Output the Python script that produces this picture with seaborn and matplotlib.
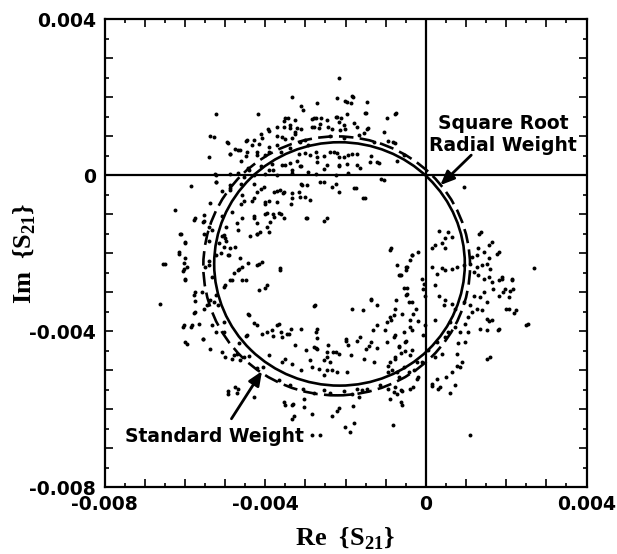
import numpy as np
import pandas as pd
import seaborn as sns
import matplotlib
matplotlib.use("Agg")
import matplotlib.pyplot as plt
from matplotlib.patches import Circle
from matplotlib.ticker import MultipleLocator, FuncFormatter

# ------------------------------------------------------------
# measured S21 points, read off the figure, in units of 1e-3
# (Re, Im) pairs, grouped by where they sit around the circle
# ------------------------------------------------------------

upper_arc = [
    (-2.17, 2.48), (-3.32, 2.00), (-2.20, 1.97), (-1.85, 2.03), (-1.97, 1.86), (-3.12, 1.77),
    (-3.07, 1.66), (-2.70, 1.84), (-1.46, 1.86), (-5.22, 1.57), (-4.18, 1.57), (-1.97, 1.57),
    (-1.51, 1.59), (-0.78, 1.57), (-3.51, 1.45), (-3.27, 1.41), (-2.78, 1.47), (-2.63, 1.32),
    (-2.24, 1.50), (-2.15, 1.36), (-3.71, 1.22), (-3.37, 1.27), (-3.12, 1.18), (-2.83, 1.22),
    (-2.44, 1.22), (-2.05, 1.27), (-1.71, 1.22), (-1.46, 1.18), (-5.37, 1.00), (-5.27, 0.97),
    (-4.93, 0.81), (-4.68, 0.63), (-4.49, 0.86), (-4.29, 0.90), (-4.10, 1.04), (-3.90, 1.13),
    (-3.71, 1.00), (-3.51, 0.93), (-3.27, 1.04), (-3.02, 0.90), (-2.39, 1.00), (-2.05, 0.95),
    (-0.93, 0.86), (-0.78, 0.81), (-5.39, 0.45), (-4.88, 0.54), (-4.49, 0.49), (-4.20, 0.58),
    (-3.90, 0.58), (-3.71, 0.77), (-3.61, 0.58), (-3.37, 0.68), (-3.17, 0.54), (-2.93, 0.77),
    (-2.73, 0.60), (-2.54, 0.49), (-2.29, 0.58), (-2.15, 0.45), (-1.95, 0.51), (-1.71, 0.54),
    (-1.37, 0.49), (-1.17, 0.31), (-0.73, 0.36), (-4.44, 0.17), (-4.10, 0.22), (-3.80, 0.13),
    (-3.51, 0.26), (-3.32, 0.13), (-3.12, 0.22), (-2.93, 0.08), (-2.54, 0.15), (-2.15, 0.22),
    (-1.95, 0.05), (-1.71, 0.26), (-5.22, 0.00), (-4.68, 0.04), (-4.29, 0.00), (-4.00, 0.02),
    (-3.71, -0.01), (-3.32, 0.04), (-2.73, 0.02), (-2.24, -0.01),
    (-2.01, 1.90), (-1.87, 1.84), (-1.82, 2.00), (-1.48, 1.58), (-0.97, 1.47), (-0.75, 1.58),
    (-3.54, 1.38), (-3.42, 1.45), (-2.84, 1.43), (-2.73, 1.47), (-2.60, 1.45), (-2.45, 1.41),
    (-2.21, 1.48), (-2.11, 1.45), (-1.78, 1.33), (-1.45, 1.21), (-1.04, 1.09), (-0.82, 0.85),
    (-3.54, 1.24), (-3.38, 1.20), (-3.25, 1.11), (-3.21, 1.21), (-3.58, 0.98), (-3.33, 0.94),
    (-3.13, 0.85), (-2.79, 1.24), (-2.67, 1.20), (-2.34, 1.18), (-2.13, 1.15), (-2.01, 1.18),
    (-1.67, 1.03), (-1.53, 1.07), (-1.30, 0.85), (-0.55, 0.51), (-3.00, 0.56), (-2.88, 0.51),
    (-2.71, 0.47), (-2.38, 0.60), (-2.21, 0.56), (-2.05, 0.47), (-1.84, 0.53), (-3.58, 0.26),
    (-3.38, 0.30), (-3.21, 0.36), (-3.13, 0.24), (-2.71, 0.33), (-2.46, 0.26), (-2.17, 0.26),
    (-1.97, 0.27), (-1.63, 0.17), (-1.39, 0.33), (-1.22, 0.33),
    (-4.95, 0.84), (-4.87, 0.54), (-4.74, 0.67), (-4.62, 0.64), (-4.45, 0.90), (-4.33, 0.77),
    (-4.16, 0.79), (-4.08, 0.94), (-3.93, 1.17), (-4.45, 0.60), (-4.20, 0.51), (-4.00, 0.51),
    (-3.91, 0.73), (-4.59, 0.36), (-4.41, 0.13), (-3.91, 0.13), (-3.83, 0.27), (-5.24, 0.02),
    (-4.87, 0.02), (-4.53, -0.04),
]

inner_top = [
    (-5.85, -0.28), (-6.24, -0.90), (-5.22, -0.19), (-5.07, -0.42), (-4.88, -0.33), (-4.59, -0.24),
    (-4.29, -0.24), (-4.10, -0.37), (-3.71, -0.42), (-3.56, -0.47), (-3.12, -0.24), (-3.02, -0.56),
    (-2.63, -0.19), (-2.24, -0.24), (-1.80, -0.33), (-1.12, -0.10), (0.96, -0.31),
    (-4.59, -0.74), (-4.29, -0.60), (-4.00, -0.74), (-3.71, -0.69), (-3.32, -0.60), (-1.56, -0.60),
    (-4.29, -1.06), (-4.00, -1.01), (-3.80, -1.01), (-3.61, -1.01), (-4.68, -1.42), (-3.90, -1.47),
    (-4.20, -1.52), (-5.07, -1.56), (-4.98, -1.70), (-4.88, -1.88), (-5.07, -1.06), (-4.98, -1.33),
    (-5.41, -1.33), (-5.41, -1.70), (-2.54, -1.17), (-2.98, -1.11),
    (-3.62, -0.38), (-3.54, -0.43), (-3.33, -0.47), (-3.08, -0.26), (-2.96, -0.26), (-3.17, -0.43),
    (-3.13, -0.56), (-2.88, -0.64), (-2.54, -0.17), (-2.34, -0.30), (-2.17, -0.43), (-1.73, -0.34),
    (-1.51, -0.60), (-1.04, -0.13), (-3.36, -0.75), (-3.66, -0.98), (-3.52, -1.11), (-2.96, -1.09),
    (-2.46, -1.11), (-0.86, -1.88),
    (-5.22, -0.17), (-4.87, -0.26), (-4.87, -0.38), (-4.58, -0.51), (-4.53, -0.67), (-4.33, -0.67),
    (-4.20, -0.43), (-4.04, -0.30), (-4.00, -0.68), (-3.91, -0.67), (-3.79, -0.43), (-5.37, -0.73),
    (-5.74, -1.11), (-5.53, -1.03), (-5.53, -1.17), (-4.83, -0.94), (-4.70, -1.24), (-4.58, -1.11),
    (-4.29, -1.11), (-4.20, -1.24), (-3.96, -0.98), (-3.87, -1.20), (-3.79, -1.07), (-6.11, -1.50),
    (-6.00, -1.71), (-6.15, -1.97), (-5.99, -2.12), (-5.53, -1.50), (-5.32, -1.41), (-5.03, -1.54),
    (-4.99, -1.62), (-5.16, -1.75), (-5.03, -1.84), (-5.09, -2.01), (-4.91, -2.05), (-4.74, -1.84),
    (-4.62, -2.12), (-4.37, -1.56), (-4.20, -1.50), (-4.12, -1.45), (-3.96, -1.33), (-4.08, -2.22),
    (-6.54, -2.29), (-6.10, -1.52), (-6.00, -1.74), (-6.15, -2.02), (-6.03, -2.25), (-6.05, -2.47),
    (-6.00, -2.70), (-5.76, -1.15), (-5.56, -1.20),
]

left_arc = [
    (-6.49, -2.27), (-6.03, -2.40), (-5.95, -2.36), (-5.99, -2.66), (-5.49, -2.36), (-5.41, -2.32),
    (-5.32, -2.62), (-5.03, -2.87), (-4.99, -2.83), (-4.83, -2.70), (-4.66, -2.40), (-4.58, -2.36),
    (-4.58, -2.70), (-4.20, -2.32), (-3.96, -2.83), (-4.16, -2.96), (-6.63, -3.32), (-5.75, -3.00),
    (-5.57, -3.00), (-5.75, -3.24), (-5.74, -3.51), (-5.53, -3.43), (-5.45, -3.34), (-5.37, -3.21),
    (-5.28, -3.26), (-6.03, -3.85), (-5.82, -3.84), (-5.64, -3.81), (-5.32, -3.85), (-5.22, -4.03),
    (-5.03, -3.77), (-5.03, -4.03), (-5.99, -4.28), (-5.55, -4.20), (-5.37, -4.47), (-5.07, -4.54),
    (-4.99, -4.67), (-4.83, -4.71), (-4.78, -4.62), (-4.66, -4.32), (-4.45, -4.11), (-4.41, -3.60),
    (-4.29, -3.79), (-4.08, -4.07), (-3.96, -4.03), (-3.83, -3.98), (-4.70, -4.58), (-4.62, -4.75),
    (-4.53, -4.67), (-4.41, -4.64), (-4.20, -4.95), (-4.06, -4.92), (-4.93, -5.55), (-4.74, -5.44),
    (-4.70, -5.58), (-4.29, -5.69),
    (-5.76, -3.07), (-5.76, -3.53), (-6.05, -3.89), (-5.85, -3.89), (-5.95, -4.33), (-5.56, -4.21),
    (-4.93, -5.61), (-4.68, -5.49), (-4.68, -2.43), (-4.78, -2.52), (-4.49, -2.70), (-4.88, -2.70),
    (-4.44, -2.25), (-4.93, -2.06), (-5.22, -2.06), (-5.41, -2.20), (-5.22, -3.07), (-5.17, -3.34),
    (-3.63, -2.43), (-4.15, -2.29), (-4.00, -2.89), (-4.44, -3.57), (-4.20, -3.84), (-4.49, -4.12),
    (-3.80, -4.12), (-3.71, -3.84), (-3.61, -4.03), (-3.41, -4.07), (-3.12, -3.96), (-2.73, -4.03),
    (-3.90, -4.62), (-3.51, -4.71), (-3.12, -4.99),
]

bottom_arc = [
    (-3.62, -2.38), (-2.75, -3.33), (-1.84, -3.43), (-1.57, -3.47), (-1.37, -3.17), (-1.22, -3.34),
    (-0.72, -2.32), (-0.49, -2.36), (-0.62, -2.56), (-0.47, -2.90), (-0.46, -3.04), (-0.41, -3.26),
    (-0.74, -3.21), (-3.66, -3.81), (-3.58, -4.15), (-3.46, -4.07), (-3.36, -3.94), (-3.25, -4.35),
    (-2.71, -3.94), (-2.71, -4.18), (-2.78, -4.41), (-2.71, -4.47), (-2.45, -4.54), (-2.31, -4.54),
    (-2.15, -4.58), (-1.98, -4.20), (-1.95, -4.35), (-1.87, -4.61), (-1.63, -4.15), (-1.49, -4.47),
    (-1.37, -4.28), (-1.22, -4.44), (-0.97, -4.28), (-0.80, -4.15), (-0.68, -4.41), (-0.62, -4.56),
    (-0.51, -4.52), (-1.22, -3.85), (-0.97, -3.77), (-0.89, -3.64), (-0.80, -3.60), (-0.76, -4.11),
    (-0.60, -3.56), (-0.55, -4.03), (-0.39, -3.73), (-0.51, -4.28),
    (-3.58, -4.79), (-3.33, -4.84), (-2.88, -4.75), (-2.84, -4.92), (-2.67, -4.97), (-2.54, -4.75),
    (-2.46, -4.67), (-2.38, -4.79), (-2.34, -5.01), (-2.54, -5.14), (-2.45, -5.01), (-2.21, -5.05),
    (-1.97, -5.05), (-1.53, -4.73), (-1.29, -4.79), (-0.89, -4.79), (-0.76, -4.67), (-0.85, -5.01),
    (-0.72, -5.05), (-0.55, -4.92), (-0.93, -5.05), (-0.68, -5.18), (-0.43, -5.05), (-0.39, -5.48),
    (-0.62, -5.52),
    (-3.66, -5.26), (-3.38, -5.39), (-3.05, -5.48), (-2.79, -5.58), (-2.54, -5.52), (-2.38, -5.58),
    (-2.05, -5.55), (-1.84, -5.61), (-1.72, -5.48), (-1.59, -5.52), (-1.47, -5.48), (-1.14, -5.39),
    (-0.93, -5.48), (-0.80, -5.56), (-1.67, -5.69), (-0.89, -5.74), (-0.72, -5.61),
    (-3.52, -5.82), (-3.31, -5.86), (-3.03, -5.74), (-3.03, -5.95), (-3.29, -6.18), (-2.17, -5.97),
    (-1.82, -5.91), (-2.34, -6.18), (-2.01, -6.46), (-1.78, -6.35), (-1.88, -6.59), (-0.82, -6.40),
    (-0.62, -5.82), (-2.84, -6.66), (-2.63, -6.67),
    (-3.51, -5.90), (-3.32, -5.90), (-3.32, -6.26), (-2.83, -6.13), (-2.20, -6.04), (-0.59, -5.90),
    (-2.98, -4.48), (-2.73, -4.44), (-2.44, -4.35), (-2.24, -4.53), (-2.00, -4.26), (-1.71, -4.26),
    (-1.41, -4.39), (-2.78, -3.36), (-1.37, -3.21), (-0.90, -1.93), (-0.68, -2.57), (-0.49, -2.43),
    (-0.34, -2.06), (-0.20, -1.97), (-0.54, -2.89), (-0.49, -3.07), (-0.78, -3.43), (-0.88, -3.71),
    (-1.02, -3.98), (-1.32, -3.98), (-0.24, -3.43), (-0.05, -2.79), (-0.20, -3.75), (-0.39, -3.89),
    (-0.49, -4.26), (-0.68, -4.39), (-0.78, -4.71), (-0.93, -4.89), (-0.39, -4.62), (-0.29, -4.99),
    (-0.20, -5.17), (-0.59, -5.53), (-0.78, -5.44), (-0.35, -2.05), (-0.39, -2.18), (-0.64, -2.56),
    (-0.47, -2.35),
]

right_arc = [
    (0.15, -2.36), (0.27, -2.53), (0.40, -2.38), (0.48, -2.44), (0.65, -2.40), (0.77, -2.36),
    (0.94, -2.32), (1.10, -2.27), (1.27, -2.36), (1.39, -2.32), (1.52, -2.27), (1.60, -2.40),
    (1.19, -2.49), (1.31, -2.57), (1.44, -2.66), (1.56, -2.62), (1.64, -2.74), (1.68, -2.92),
    (1.81, -2.70), (1.89, -2.62), (2.14, -2.66), (2.18, -2.92), (1.91, -3.00), (1.81, -3.09),
    (2.06, -3.13), (1.97, -2.92), (2.68, -2.38),
    (0.23, -2.83), (0.32, -3.09), (0.44, -3.34), (0.48, -3.21), (0.65, -3.30), (0.73, -3.43),
    (0.94, -3.26), (1.10, -3.34), (1.19, -3.09), (1.35, -3.13), (1.44, -3.00), (1.52, -3.26),
    (1.27, -3.43), (1.14, -3.51), (1.39, -3.47), (1.06, -3.64), (0.98, -3.81), (0.85, -4.03),
    (0.73, -3.90), (0.56, -4.03), (0.48, -4.15), (0.27, -4.28), (0.40, -4.58), (0.23, -4.67),
    (0.81, -4.32), (0.77, -4.58), (0.90, -4.79), (0.85, -4.92), (0.65, -5.05), (0.73, -5.39),
    (0.36, -5.44), (0.27, -5.22), (0.15, -5.35), (-0.22, -5.22), (1.60, -4.67), (2.06, -3.43),
    (2.24, -3.47), (2.55, -3.81), (1.10, -6.67), (1.52, -3.68), (1.64, -3.73), (1.82, -3.94),
    (1.35, -3.94), (1.52, -3.98), (1.06, -4.03), (0.98, -4.28), (0.60, -3.77), (0.23, -3.73),
    (-0.02, -3.85), (-0.06, -4.11), (0.05, -4.49), (-0.10, -4.79),
    (-0.35, -3.26), (-0.31, -3.56), (-0.35, -3.98), (-0.35, -4.49), (-0.31, -5.44), (-0.22, -4.79),
    (-0.06, -2.92), (-0.02, -3.09), (-0.10, -2.66),
    (0.32, -1.44), (0.56, -1.45), (0.48, -1.62), (0.65, -1.58), (0.40, -1.75), (0.48, -1.88),
    (0.15, -1.88), (0.23, -1.79), (1.38, -1.45), (1.64, -1.71), (1.31, -1.88), (1.44, -1.97),
    (1.81, -1.97), (1.56, -2.14), (1.27, -2.05), (1.14, -2.09),
    (2.49, -3.84), (2.20, -3.53), (2.00, -3.43), (2.15, -2.70), (2.10, -2.98), (1.90, -2.66),
    (1.80, -3.98), (1.56, -3.75), (1.76, -2.02), (1.56, -1.79), (1.32, -1.52), (1.51, -4.71),
    (0.15, -5.40), (0.29, -5.49), (0.59, -5.58), (0.49, -5.17), (0.78, -4.89),
]

# fitted circles (centre and radius, units of 1e-3)
sqrt_centre = (-2.15, -2.28)
sqrt_radius = 3.12
std_centre = (-2.22, -2.33)
std_radius = 3.32

tick_labels = {-0.008: "-0.008", -0.004: "-0.004", 0.0: "0", 0.004: "0.004"}

SCALE = 1e-3


def label_fmt(v, pos):
    for k, s in tick_labels.items():
        if abs(v - k) < 1e-6:
            return s
    return ""


points = pd.DataFrame(
    upper_arc + inner_top + left_arc + bottom_arc + right_arc,
    columns=["re", "im"],
) * SCALE

sns.set_theme(style="ticks")
plt.rcParams["font.family"] = ["DejaVu Sans"]
plt.rcParams["text.color"] = "black"
plt.rcParams["axes.labelcolor"] = "black"
plt.rcParams["xtick.color"] = "black"
plt.rcParams["ytick.color"] = "black"

fig = plt.figure(figsize=(6.17, 5.54), dpi=100)
ax = fig.add_axes([0.1694, 0.1209, 0.7812, 0.8448])

sns.scatterplot(
    data=points,
    x="re",
    y="im",
    ax=ax,
    color="black",
    s=8,
    linewidth=0,
    marker="o",
    zorder=3,
)

ax.axhline(0, color="black", lw=1.6, zorder=2)
ax.axvline(0, color="black", lw=1.6, zorder=2)

ax.add_patch(Circle(
    (sqrt_centre[0] * SCALE, sqrt_centre[1] * SCALE), sqrt_radius * SCALE,
    fill=False, ec="black", lw=1.9, zorder=4,
))
ax.add_patch(Circle(
    (std_centre[0] * SCALE, std_centre[1] * SCALE), std_radius * SCALE,
    fill=False, ec="black", lw=1.9, ls=(0, (5.5, 2.4)), zorder=4,
))

ax.set_xlim(-0.008, 0.004)
ax.set_ylim(-0.008, 0.004)

for axis in (ax.xaxis, ax.yaxis):
    axis.set_major_locator(MultipleLocator(0.001))
    axis.set_minor_locator(MultipleLocator(0.0005))
    axis.set_major_formatter(FuncFormatter(label_fmt))

ax.tick_params(which="both", direction="in", top=True, right=True,
               color="black", width=1.2)
ax.tick_params(which="major", length=6)
ax.tick_params(which="minor", length=3)
ax.tick_params(axis="x", pad=6)
ax.tick_params(axis="y", pad=6)
for lab in ax.get_xticklabels() + ax.get_yticklabels():
    lab.set_fontweight("bold")
    lab.set_fontsize(13.5)
    lab.set_color("black")

for sp in ax.spines.values():
    sp.set_linewidth(1.6)
    sp.set_color("black")

label_font = dict(family="Liberation Serif", weight="bold", size=19, color="black")
ax.set_xlabel(r"Re  {S$_\mathregular{21}$}", **label_font)
ax.set_ylabel(r"Im  {S$_\mathregular{21}$}", **label_font)
ax.xaxis.set_label_coords(0.5, -0.083)
ax.yaxis.set_label_coords(-0.137, 0.5)

note_font = dict(weight="bold", size=13.5, color="black")
ax.text(1.92 * SCALE, 1.05 * SCALE, "Square Root\nRadial Weight",
        ha="center", va="center", multialignment="center", zorder=5, **note_font)
ax.text(-5.27 * SCALE, -6.70 * SCALE, "Standard Weight",
        ha="center", va="center", zorder=5, **note_font)

arrow = dict(arrowstyle="-|>,head_length=0.7,head_width=0.3", color="black",
             lw=2, shrinkA=0, shrinkB=0)
ax.annotate("", xy=(0.36 * SCALE, -0.26 * SCALE),
            xytext=(1.13 * SCALE, 0.51 * SCALE), arrowprops=arrow, zorder=5)
ax.annotate("", xy=(-4.08 * SCALE, -5.03 * SCALE),
            xytext=(-4.84 * SCALE, -6.25 * SCALE), arrowprops=arrow, zorder=5)

fig.savefig("out.png", dpi=100)
